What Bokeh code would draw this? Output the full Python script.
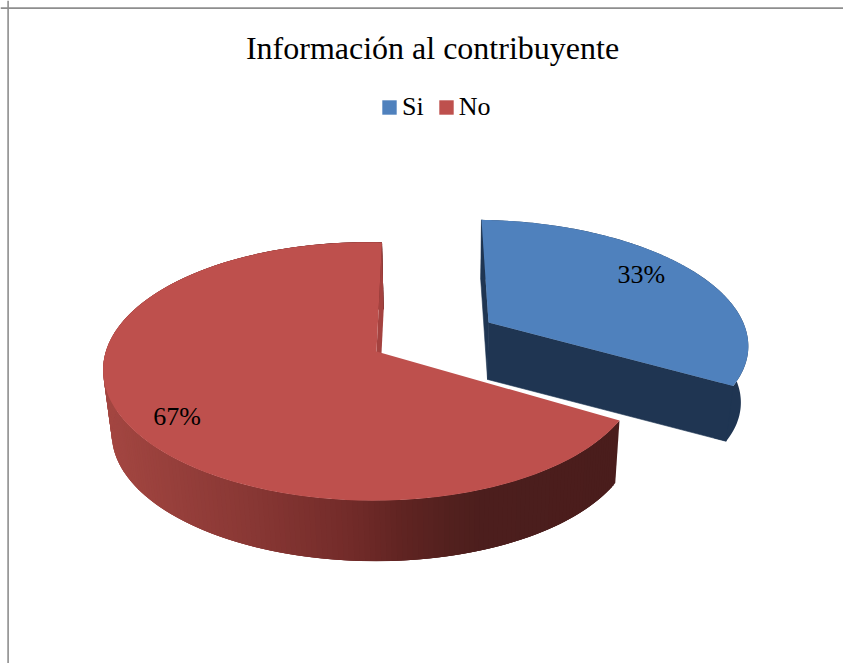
import numpy as np
from bokeh.core.properties import value
from bokeh.embed import file_html
from bokeh.models import ColumnDataSource, Legend, LegendItem, Span
from bokeh.plotting import figure
from bokeh.resources import INLINE

# --- chart data
title_text = "Información al contribuyente"
categories = ["Si", "No"]
percent_values = [33, 67]

# --- styles
FONT = "Liberation Serif"
TOP_COLORS = ["#4F81BD", "#BE504D"]
BLUE_SIDE = "#1F3552"
RED_INNER = "#A4423F"
RED_STOPS_X = [105, 250, 350, 400, 450, 480, 620]
RED_STOPS_RGB = [(163, 70, 65), (136, 55, 52), (114, 43, 41), (96, 36, 34), (82, 32, 30), (76, 30, 29), (74, 29, 28)]

W, H = 843, 663
p = figure(width=W, height=H, x_range=(0, W), y_range=(H, 0),
           output_backend="svg", toolbar_location=None, min_border=0,
           outline_line_color=None, background_fill_color="white", border_fill_color="white")
p.axis.visible = False
p.grid.visible = False
p.title = None

# chart frame: the reference shows only its top and left edges
p.add_layout(Span(location=7.6, dimension="width", line_color="#8E8E8E", line_width=1.6))
p.add_layout(Span(location=7.6, dimension="height", line_color="#8E8E8E", line_width=1.6))

# --- projection of the tilted pie (perspective homography per slice)
GEOM = {
    "Si": dict(x0=488.0, y0=322.0, a=256.0, b=-8.0, c=3.2, d=-117.0, m=0.0, k=0.14, vpy=2600.0),
    "No": dict(x0=376.0, y0=351.0, a=264.3, b=6.35, c=4.8, d=-126.0, m=0.0174, k=0.155, vpy=2920.0),
}
T, VPX = 0.025, 450.0


def project(theta, g, r=1.0):
    u, v = r * np.sin(theta), r * np.cos(theta)
    w = 1 + g["m"] * u + g["k"] * v
    return g["x0"] + (g["a"] * u + g["b"] * v) / w, g["y0"] + (g["c"] * u + g["d"] * v) / w


def drop(x, y, g):
    x, y = np.asarray(x, float), np.asarray(y, float)
    return x + T * (VPX - x), y + T * (g["vpy"] - y)


edges = 2 * np.pi * np.cumsum([0] + percent_values) / sum(percent_values)
slices = {c: (edges[i], edges[i + 1]) for i, c in enumerate(categories)}


def red_color(x):
    rgb = [int(round(np.interp(x, RED_STOPS_X, [s[i] for s in RED_STOPS_RGB]))) for i in range(3)]
    return "#%02x%02x%02x" % tuple(rgb)


def wall(th, g):
    ex, ey = project(th, g)
    ax, ay = g["x0"], g["y0"]
    bx, by = drop([ex, ax], [ey, ay], g)
    return ([float(ex), float(bx[0]), float(bx[1]), ax], [float(ey), float(by[0]), float(by[1]), ay])


# --- Si: outer wall (tucked slightly under the front wall, so no seam), then the radial walls
g = GEOM["Si"]
s0, s1 = slices["Si"]
th = np.linspace(s0, s1, 120)
ox, oy = project(th, g)
bx, by = drop(ox, oy, g)
fx, fy = wall(s1, g)
TUCK = 0.05
tuck_x = [fx[0] + TUCK * (fx[3] - fx[0]), fx[1] + TUCK * (fx[2] - fx[1])]
tuck_y = [fy[0] + TUCK * (fy[3] - fy[0]), fy[1] + TUCK * (fy[2] - fy[1])]
p.patch(list(ox) + tuck_x + list(bx[::-1]), list(oy) + tuck_y + list(by[::-1]),
        fill_color=BLUE_SIDE, line_color=None)
blue_xs, blue_ys = [], []
for t in (s0, s1):
    qx, qy = wall(t, g)
    blue_xs.append(qx)
    blue_ys.append(qy)
p.patches(blue_xs, blue_ys, fill_color=BLUE_SIDE, line_color=BLUE_SIDE, line_width=0.6)

# --- No: shaded outer wall (strips overlap to avoid seams), then the wall facing the gap
g = GEOM["No"]
s0, s1 = slices["No"]
th = np.linspace(s0, s1, 241)
ox, oy = project(th, g)
bx, by = drop(ox, oy, g)
red_xs, red_ys, red_cols = [], [], []
for i in range(len(th) - 1):
    j = min(i + 3, len(th) - 1)
    red_xs.append([ox[i], ox[j], bx[j], bx[i]])
    red_ys.append([oy[i], oy[j], by[j], by[i]])
    red_cols.append(red_color((ox[i] + ox[i + 1]) / 2))
p.patches("xs", "ys", source=ColumnDataSource(dict(xs=red_xs, ys=red_ys, color=red_cols)),
          fill_color="color", line_color=None)
qx, qy = wall(s1, g)
p.patch(qx, qy, fill_color=RED_INNER, line_color=None)

# --- top faces, one renderer per slice so that the legend can use them
items = []
for c, col in zip(categories, TOP_COLORS):
    g = GEOM[c]
    th = np.linspace(slices[c][0], slices[c][1], 200)
    tx, ty = project(th, g)
    r = p.patch(list(tx) + [g["x0"]], list(ty) + [g["y0"]], fill_color=col, line_color=None)
    items.append(LegendItem(label=c, renderers=[r]))

# --- data labels at each slice's mid angle
LABEL_R = 0.77
LABEL_DX = {"Si": -5.0, "No": -8.0}
LABEL_DY = {"Si": -7.0, "No": 15.0}
lx, ly, lt = [], [], []
for c, v in zip(categories, percent_values):
    mid = sum(slices[c]) / 2
    x, y = project(mid, GEOM[c], LABEL_R)
    lx.append(float(x) + LABEL_DX[c]); ly.append(float(y) + LABEL_DY[c]); lt.append(f"{v}%")
p.text(lx, ly, text=lt, text_font=value(FONT), text_font_size="26px", text_color="black",
       text_align="center", text_baseline="middle")

# --- title
p.text([432], [47], text=[title_text], text_font=value(FONT), text_font_size="32px",
       text_color="black", text_align="center", text_baseline="alphabetic")

# --- legend
legend = Legend(items=items, orientation="horizontal", location=(380, 541),
                glyph_width=18, glyph_height=18, label_standoff=4, spacing=13,
                padding=0, margin=0, background_fill_alpha=0, border_line_color=None,
                label_text_font=FONT, label_text_font_size="26px", label_text_color="black")
p.add_layout(legend, "center")

open("out.html", "w").write(file_html(p, INLINE))
